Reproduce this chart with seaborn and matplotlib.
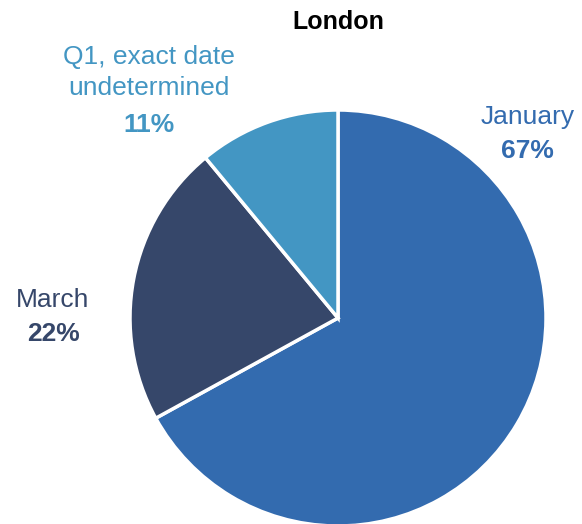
import matplotlib
matplotlib.use('Agg')
import matplotlib.pyplot as plt
import seaborn as sns

months = ['January', 'March', 'Q1, exact date\nundetermined']
shares = [67, 22, 11]
colors = ['#336BAF', '#36476A', '#4396C3']

sns.set_theme(style='white')
plt.rcParams['font.family'] = ['Liberation Sans', 'DejaVu Sans']

fig = plt.figure(figsize=(5.82, 5.24), dpi=100)
ax = fig.add_axes([130 / 582, -2 / 524, 416 / 582, 416 / 524])
ax.pie(shares, colors=colors, startangle=90, counterclock=False,
       wedgeprops={'edgecolor': 'white', 'linewidth': 2.5})
ax.set_xlim(-1, 1)
ax.set_ylim(-1, 1)

# label positions (name, percentage) in pie units
label_pos = [(0.91, 0.965, 0.805), (-1.37, 0.085, -0.075), (-0.91, 1.18, 0.93)]
for name, pct, col, (x, yn, yp) in zip(months, shares, colors, label_pos):
    ax.text(x, yn, name, color=col, fontsize=19, ha='center', va='center',
            linespacing=1.4, clip_on=False)
    ax.text(x, yp, f'{pct}%', color=col, fontsize=19, fontweight='bold',
            ha='center', va='center', clip_on=False)

fig.text(338 / 582, 1 - 22 / 524, 'London', fontsize=18, fontweight='bold',
         ha='center', va='center', color='black')

fig.savefig('out.png', dpi=100)
